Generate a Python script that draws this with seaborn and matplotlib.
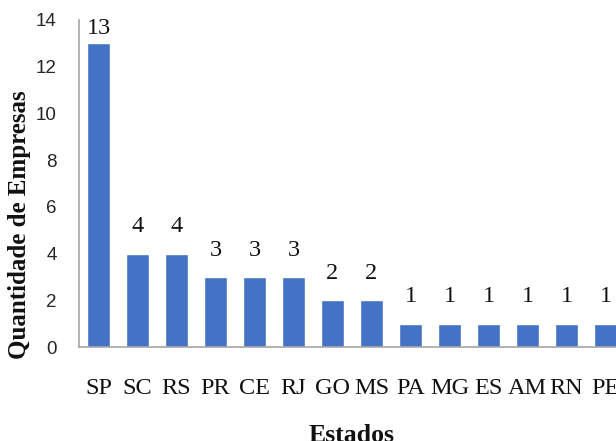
import matplotlib
matplotlib.use("Agg")
import matplotlib.pyplot as plt
import seaborn as sns
import pandas as pd

# Number of companies per Brazilian state
estados = ["SP", "SC", "RS", "PR", "CE", "RJ", "GO", "MS", "PA", "MG", "ES", "AM", "RN", "PE"]
empresas = [13, 4, 4, 3, 3, 3, 2, 2, 1, 1, 1, 1, 1, 1]
y_ticks = [0, 2, 4, 6, 8, 10, 12, 14]

df = pd.DataFrame({"Estados": estados, "Empresas": empresas})

sns.set_theme(style="white")
plt.rcParams["font.family"] = ["Liberation Serif", "DejaVu Serif"]

fig = plt.figure(figsize=(6.16, 4.41), dpi=100)
ax = fig.add_axes([79 / 616, 94 / 441, 537 / 616, 327 / 441])

bar_color = "#4472C4"
sns.barplot(data=df, x="Estados", y="Empresas", color=bar_color, width=0.58,
            saturation=1, ax=ax)

ax.set_xlim(-0.5, 13.27)
ax.set_ylim(0, 14)
ax.set_yticks(y_ticks)
ax.set_yticklabels([str(t) for t in y_ticks], family=["Liberation Sans", "DejaVu Sans"],
                   fontsize=13.5, color="#262626")
ax.tick_params(axis="y", length=0, pad=16)
ax.tick_params(axis="x", length=0, pad=22, labelsize=17.5, labelcolor="#111111")

for spine in ["top", "right"]:
    ax.spines[spine].set_visible(False)
for spine in ["left", "bottom"]:
    ax.spines[spine].set_color("#A6A6A6")
    ax.spines[spine].set_linewidth(1.2)

# value labels above each bar, kept inside the plot area
for i, v in enumerate(empresas):
    ax.text(i, min(v + 0.7, 13.2), str(v), ha="center", va="bottom",
            fontsize=17.5, color="#111111")

ax.set_xlabel("Estados", fontsize=18.5, fontweight="bold", color="#111111")
ax.xaxis.set_label_coords(0.508, -0.235)
ax.set_ylabel("Quantidade de Empresas", fontsize=18, fontweight="bold", color="#111111")
ax.yaxis.set_label_coords(-0.089, 0.373)

fig.savefig("out.png", dpi=100)
